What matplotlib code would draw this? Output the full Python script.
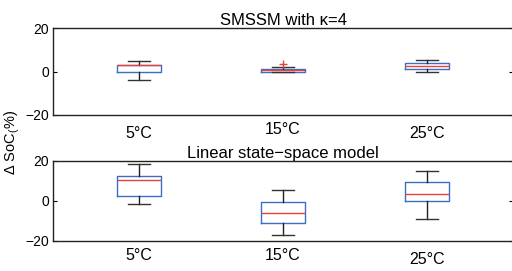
import matplotlib
matplotlib.use("Agg")
import matplotlib.pyplot as plt

plt.rcParams['font.family'] = ['Liberation Sans', 'DejaVu Sans']
plt.rcParams['mathtext.fontset'] = 'custom'
plt.rcParams['mathtext.rm'] = 'Liberation Sans'
plt.rcParams['mathtext.it'] = 'Liberation Sans'

categories = ["5°C", "15°C", "25°C"]

# SMSSM with kappa = 4
top_whislo = [-4.0, 0.0, 0.0]
top_q1 = [0.0, 0.0, 1.3]
top_med = [3.0, 0.8, 2.4]
top_q3 = [3.1, 1.0, 4.0]
top_whishi = [5.0, 2.1, 5.1]
top_fliers = [[], [3.3], []]

# Linear state-space model
bot_whislo = [-1.25, -16.75, -8.9]
bot_q1 = [2.75, -10.9, 0.0]
bot_med = [10.75, -6.1, 3.75]
bot_q3 = [12.6, -0.25, 9.75]
bot_whishi = [18.6, 5.75, 14.9]
bot_fliers = [[], [], []]

yticks = [-20, 0, 20]
titles = ["SMSSM with \u03ba=4", "Linear state\u2212space model"]

fig = plt.figure(figsize=(5.12, 2.71), dpi=100)
ax1 = fig.add_axes([53/512, 1-115/271, 460/512, 87/271])
ax2 = fig.add_axes([53/512, 1-241/271, 460/512, 80/271])

def stats(lo, q1, med, q3, hi, fl):
    return [dict(whislo=a, q1=b, med=c, q3=d, whishi=e, fliers=f)
            for a, b, c, d, e, f in zip(lo, q1, med, q3, hi, fl)]

boxc = '#3a6fc4'
label_y = [[-0.207, -0.172, -0.207], [-0.1875, -0.175, -0.225]]

for ax, st, title, ly in [
    (ax1, stats(top_whislo, top_q1, top_med, top_q3, top_whishi, top_fliers), titles[0], label_y[0]),
    (ax2, stats(bot_whislo, bot_q1, bot_med, bot_q3, bot_whishi, bot_fliers), titles[1], label_y[1]),
]:
    pos = list(range(1, len(categories) + 1))
    ax.bxp(st, positions=pos, widths=0.305, capwidths=0.15,
           boxprops=dict(color=boxc, linewidth=1.0),
           medianprops=dict(color='#e8403a', linewidth=1.0),
           whiskerprops=dict(color='#222222', linewidth=1.0),
           capprops=dict(color='#333333', linewidth=1.0),
           flierprops=dict(marker='+', markeredgecolor='#e8403a', markersize=6, linestyle='none'))
    ax.set_xlim(0.4, 3.6)
    ax.set_ylim(-20, 20)
    ax.set_yticks(yticks)
    ax.set_xticks([])
    ax.tick_params(axis='y', direction='in', length=3, right=True, labelsize=10, pad=3)
    for s in ax.spines.values():
        s.set_linewidth(1.0)
        s.set_color('#222222')
    ax.set_title(title, fontsize=12, pad=1)
    tr = ax.get_xaxis_transform()
    for p, c, y in zip(pos, categories, ly):
        ax.text(p, y, c, transform=tr, ha='center', va='center', fontsize=11.5)

fig.text(12/512, 1-142/271, r"$\Delta$ SoC$_($%)", rotation=90, ha='center', va='center', fontsize=10.5)

fig.savefig("out.png", dpi=100)
